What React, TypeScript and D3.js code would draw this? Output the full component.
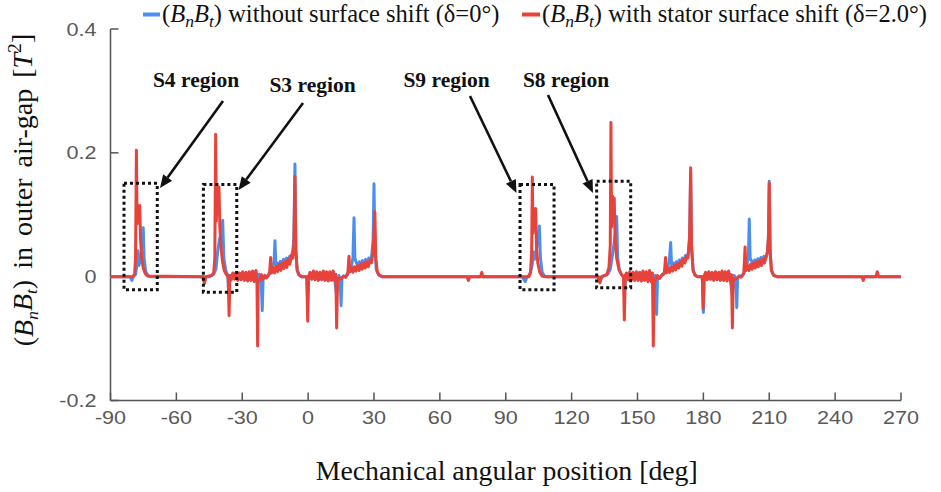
import React from 'react';
import * as d3 from 'd3';

// ---------- data ----------
const xTicks = [-90, -60, -30, 0, 30, 60, 90, 120, 150, 180, 210, 240, 270];
const yTicks = [-0.2, 0, 0.2, 0.4];
const yTickLabels = ['-0.2', '0', '0.2', '0.4'];

// (BnBt) without surface shift (δ=0°)  [deg, T^2]
const seriesWithout: [number, number][] = [
  [-90, 0], [-81, 0], [-80.3, -0.006], [-79.6, 0], [-78.6, 0.004], [-77.9, 0.02], [-77.5, 0.042], [-77.1, 0.018],
  [-76.3, 0.028], [-75.6, 0.05], [-75.1, 0.079], [-74.7, 0.03], [-74, 0.009], [-73, 0.002], [-72, 0],
  [-45, 0], [-43, 0.004], [-42, 0.012], [-41.2, 0.04], [-40.4, 0.06], [-39.6, 0.07], [-38.9, 0.091], [-38.4, 0.03],
  [-37.5, 0.01], [-36.6, 0.002], [-36.1, -0.03], [-35.6, 0.002],
  [-35, -0.004], [-34.25, 0.005], [-33.5, -0.003], [-32.75, 0.006], [-32, -0.005], [-31.25, 0.005], [-30.5, -0.004],
  [-29.75, 0.007], [-29, -0.005], [-28.25, 0.006], [-27.5, -0.006], [-26.75, 0.007], [-26, -0.005], [-25.25, 0.008],
  [-24.5, -0.007], [-23.75, 0.008], [-23, -0.01], [-22.25, 0.004], [-21.4, -0.004], [-20.9, -0.055], [-20.5, -0.003],
  [-19.6, -0.002], [-18.7, 0.001], [-17.8, 0.003], [-17, 0.008], [-16.3, 0.012], [-15.5, 0.025], [-15.1, 0.058], [-14.7, 0.02],
  [-14, 0.022], [-13.3, 0.015], [-12.6, 0.025], [-11.9, 0.018], [-11.2, 0.028], [-10.5, 0.021], [-9.8, 0.03], [-9.1, 0.024],
  [-8.4, 0.033], [-7.7, 0.03], [-7, 0.042], [-6.5, 0.06], [-6.0, 0.182], [-5.6, 0.045], [-5, 0.012], [-4.2, 0.003], [-3, 0],
  [-0.6, 0], [-0.2, -0.04], [0.2, 0],
  [0.9, 0.006], [1.65, -0.004], [2.4, 0.008], [3.15, -0.004], [3.9, 0.007], [4.65, -0.005], [5.4, 0.006], [6.15, -0.004],
  [6.9, 0.008], [7.65, -0.005], [8.4, 0.007], [9.15, -0.006], [9.9, 0.007], [10.65, -0.005], [11.4, 0.008], [12.15, -0.006],
  [13, -0.03], [14, 0.002], [14.6, -0.004], [15.0, -0.047], [15.4, -0.002], [16.3, 0.001], [17.2, -0.001], [18, 0.004],
  [18.8, 0.012], [19.6, 0.015], [20.4, 0.03], [20.9, 0.095], [21.3, 0.03],
  [22, 0.022], [22.7, 0.016], [23.4, 0.024], [24.1, 0.018], [24.8, 0.026], [25.5, 0.02], [26.2, 0.028], [26.9, 0.022],
  [27.6, 0.03], [28.3, 0.026], [29, 0.035], [29.6, 0.06], [30, 0.15], [30.4, 0.05], [31, 0.012], [32, 0.003], [33.5, 0],
  [97.5, 0], [98.8, -0.008], [99.8, 0], [101, 0.003], [102, 0.018], [102.6, 0.04], [103.2, 0.028], [104, 0.045],
  [104.8, 0.065], [105.3, 0.082], [105.8, 0.03], [106.6, 0.007], [107.6, 0.001], [109, 0],
  [132, 0], [132.9, -0.008], [133.8, 0], [136.5, 0.004], [137.6, 0.012], [138.4, 0.03], [139.2, 0.05], [139.9, 0.07],
  [140.5, 0.097], [141, 0.03], [141.8, 0.01], [142.8, 0.003], [143.8, 0], [144.1, -0.03], [144.5, 0.002],
  [145, 0.005], [145.75, -0.004], [146.5, 0.007], [147.25, -0.004], [148, 0.006], [148.75, -0.005], [149.5, 0.007],
  [150.25, -0.005], [151, 0.006], [151.75, -0.006], [152.5, 0.008], [153.25, -0.005], [154, 0.007], [154.75, -0.007],
  [155.5, 0.008], [156.25, -0.007], [157.2, -0.01], [158, 0.002], [158.3, -0.004], [158.7, -0.061], [159.1, -0.003],
  [160, -0.002], [161, 0.002], [162, 0.004], [162.9, 0.01], [163.7, 0.015], [164.5, 0.025], [165.1, 0.055], [165.5, 0.02],
  [166.2, 0.022], [166.9, 0.016], [167.6, 0.024], [168.3, 0.018], [169, 0.027], [169.7, 0.021], [170.4, 0.03], [171.1, 0.025],
  [171.8, 0.034], [172.5, 0.03], [173.2, 0.04], [173.8, 0.07], [174.2, 0.17], [174.6, 0.05], [175.3, 0.012], [176.2, 0.003], [177.5, 0],
  [179.5, 0], [180, -0.058], [180.4, 0],
  [181, 0.006], [181.75, -0.004], [182.5, 0.007], [183.25, -0.004], [184, 0.006], [184.75, -0.005], [185.5, 0.007],
  [186.25, -0.004], [187, 0.006], [187.75, -0.005], [188.5, 0.008], [189.25, -0.005], [190, 0.007], [190.75, -0.006],
  [191.5, 0.008], [192.25, -0.005], [193.2, -0.03], [194, 0.002], [194.8, -0.004], [195.2, -0.05], [195.6, -0.002],
  [196.5, 0.001], [197.4, 0.001], [198.3, 0.004], [199.1, 0.012], [199.8, 0.02], [200.5, 0.03], [200.9, 0.093], [201.3, 0.03],
  [202, 0.025], [202.7, 0.019], [203.4, 0.027], [204.1, 0.021], [204.8, 0.029], [205.5, 0.023], [206.2, 0.031], [206.9, 0.025],
  [207.6, 0.033], [208.3, 0.028], [209, 0.036], [209.6, 0.06], [210, 0.154], [210.4, 0.045], [211, 0.01], [212, 0.002],
  [213.5, 0], [270, 0],
];

// (BnBt) with stator surface shift (δ=2.0°)
const seriesWith: [number, number][] = [
  [-90, 0], [-80, 0], [-79, 0.004], [-78.6, 0.03], [-78.2, 0.204], [-77.9, 0.085], [-77.5, 0.11], [-77.1, 0.095],
  [-76.7, 0.115], [-76.3, 0.06], [-75.8, 0.03], [-75.1, 0.014], [-74.2, 0.005], [-73, 0.001],
  [-48, 0], [-47.2, -0.011], [-46.5, 0], [-44, 0.002], [-43, 0.006], [-42.5, 0.03], [-42.1, 0.23], [-41.8, 0.09],
  [-41.4, 0.14], [-41, 0.12], [-40.6, 0.145], [-40.2, 0.08], [-39.6, 0.045], [-39, 0.025], [-38.2, 0.01], [-37.2, 0.003],
  [-36.4, 0], [-36.0, -0.063], [-35.6, 0.002],
  [-35, -0.005], [-34.25, 0.006], [-33.5, -0.004], [-32.75, 0.007], [-32, -0.006], [-31.25, 0.006], [-30.5, -0.005],
  [-29.75, 0.008], [-29, -0.006], [-28.25, 0.007], [-27.5, -0.007], [-26.75, 0.008], [-26, -0.006], [-25.25, 0.009],
  [-24.5, -0.008], [-23.75, 0.01], [-23.3, -0.01], [-23.0, -0.112], [-22.7, -0.005], [-22, -0.006], [-21.25, 0.003],
  [-20.5, -0.004], [-19.75, 0.002], [-19, -0.002], [-18.25, 0.001], [-17.5, 0.008], [-17.05, 0.031], [-16.7, 0.006],
  [-16, 0.014], [-15.3, 0.006], [-14.6, 0.017], [-13.9, 0.008], [-13.2, 0.02], [-12.5, 0.01], [-11.8, 0.022], [-11.1, 0.013],
  [-10.4, 0.025], [-9.7, 0.015], [-9, 0.028], [-8.3, 0.02], [-7.6, 0.035], [-7, 0.03], [-6.5, 0.05], [-6.0, 0.162],
  [-5.6, 0.04], [-5, 0.01], [-4.2, 0.003], [-3, 0],
  [-0.6, 0], [-0.2, -0.072], [0.2, 0],
  [0.9, 0.007], [1.65, -0.004], [2.4, 0.009], [3.15, -0.005], [3.9, 0.008], [4.65, -0.006], [5.4, 0.007], [6.15, -0.005],
  [6.9, 0.009], [7.65, -0.006], [8.4, 0.008], [9.15, -0.007], [9.9, 0.008], [10.65, -0.006], [11.4, 0.009], [12.15, -0.007],
  [12.6, 0.004], [13.0, -0.083], [13.4, -0.004], [14.1, -0.002], [15, -0.004], [16, 0.001], [17, -0.001], [18.1, 0.006],
  [18.6, 0.033], [19, 0.008],
  [19.7, 0.015], [20.4, 0.007], [21.1, 0.016], [21.8, 0.009], [22.5, 0.018], [23.2, 0.01], [23.9, 0.02], [24.6, 0.012],
  [25.3, 0.022], [26, 0.014], [26.7, 0.024], [27.4, 0.016], [28.1, 0.026], [28.8, 0.022], [29.6, 0.04], [30.4, 0.105],
  [30.8, 0.03], [31.5, 0.008], [32.5, 0.002], [34, 0],
  [72.3, 0], [73, -0.006], [73.6, 0], [78.5, 0], [79.1, 0.007], [79.6, 0],
  [100.5, 0], [101.3, 0.008], [101.8, 0.04], [102.1, 0.161], [102.4, 0.07], [102.8, 0.106], [103.2, 0.09], [103.6, 0.11],
  [104, 0.05], [104.6, 0.022], [105.5, 0.007], [106.5, 0.001], [108, 0],
  [132.2, 0], [132.9, -0.01], [133.6, 0], [136, 0.003], [137, 0.015], [137.6, 0.05], [137.9, 0.249], [138.2, 0.08],
  [138.6, 0.13], [139, 0.105], [139.4, 0.127], [139.8, 0.06], [140.5, 0.03], [141.5, 0.012], [142.6, 0.004], [143.6, 0],
  [144, -0.07], [144.4, 0.002],
  [145, 0.006], [145.75, -0.005], [146.5, 0.008], [147.25, -0.005], [148, 0.007], [148.75, -0.006], [149.5, 0.008],
  [150.25, -0.006], [151, 0.007], [151.75, -0.007], [152.5, 0.009], [153.25, -0.006], [154, 0.008], [154.75, -0.008],
  [155.5, 0.01], [156.25, -0.008], [156.8, 0.006], [157.2, -0.112], [157.6, -0.004], [158.3, -0.005], [159, 0.002],
  [160, -0.003], [161, 0.002], [162.2, 0.006], [162.8, 0.031], [163.2, 0.006],
  [163.9, 0.014], [164.6, 0.007], [165.3, 0.016], [166, 0.009], [166.7, 0.018], [167.4, 0.011], [168.1, 0.021], [168.8, 0.014],
  [169.5, 0.024], [170.2, 0.017], [170.9, 0.028], [171.6, 0.022], [172.3, 0.033], [173, 0.03], [173.7, 0.06], [174.2, 0.176],
  [174.6, 0.05], [175.3, 0.01], [176.2, 0.002], [177.5, 0],
  [179.5, 0], [179.9, -0.052], [180.3, 0],
  [181, 0.007], [181.75, -0.005], [182.5, 0.008], [183.25, -0.004], [184, 0.007], [184.75, -0.006], [185.5, 0.008],
  [186.25, -0.005], [187, 0.007], [187.75, -0.006], [188.5, 0.009], [189.25, -0.006], [190, 0.008], [190.75, -0.007],
  [191.5, 0.009], [192.25, -0.006], [192.8, 0.003], [193.2, -0.083], [193.6, -0.003], [194.3, -0.004], [195.2, -0.003],
  [196.2, 0.001], [197.2, -0.001], [198.4, 0.006], [199, 0.048], [199.4, 0.01],
  [200.1, 0.018], [200.8, 0.01], [201.5, 0.02], [202.2, 0.012], [202.9, 0.022], [203.6, 0.014], [204.3, 0.024], [205, 0.016],
  [205.7, 0.026], [206.4, 0.018], [207.1, 0.028], [207.8, 0.022], [208.5, 0.032], [209.2, 0.04], [209.7, 0.07], [210, 0.151],
  [210.4, 0.04], [211, 0.01], [212, 0.002], [213.5, 0],
  [252.2, 0], [252.8, -0.006], [253.4, 0], [258.6, 0], [259.2, 0.008], [259.8, 0], [270, 0],
];

// dotted region boxes, in data coordinates [x0, x1, yLow, yHigh]
const regionNames = ['S4 region', 'S3 region', 'S9 region', 'S8 region'];
const regionBoxes: [number, number, number, number][] = [
  [-83.85, -68.7, -0.021, 0.151],
  [-47.7, -32.5, -0.025, 0.149],
  [96.5, 112.0, -0.021, 0.149],
  [131.4, 146.9, -0.018, 0.154],
];

// ---------- layout ----------
const W = 941;
const H = 492;
const M = { left: 110.5, right: 901, top: 29, bottom: 400.5 };
// label [cx, baseline], arrow [x1, y1, x2, y2] in pixels
const labelPos = [[196, 87], [312.5, 91.5], [446.5, 86.5], [566, 86.5]];
const arrowPos = [
  [223, 101, 160, 188],
  [303, 103, 238.5, 190],
  [470, 96, 516.5, 193],
  [548, 95, 593, 193],
];

const BLUE = '#4a8ff0';
const RED = '#e8433a';
const AXIS = '#555555';
const TICKTXT = '#595959';

const x = d3.scaleLinear().domain([-90, 270]).range([M.left, M.right]);
const y = d3.scaleLinear().domain([-0.2, 0.4]).range([M.bottom, M.top]);
const line = d3.line<[number, number]>().x(d => x(d[0])).y(d => y(d[1]));

function Arrow({ a }: { a: number[] }) {
  const [x1, y1, x2, y2] = a;
  const ang = Math.atan2(y2 - y1, x2 - x1);
  const L = 13, Wd = 5.5;
  const bx = x2 - L * Math.cos(ang), by = y2 - L * Math.sin(ang);
  const px = -Math.sin(ang) * Wd, py = Math.cos(ang) * Wd;
  return (
    <g>
      <line x1={x1} y1={y1} x2={bx} y2={by} stroke="#111" strokeWidth={2.6} />
      <polygon points={`${x2},${y2} ${bx + px},${by + py} ${bx - px},${by - py}`} fill="#111" />
    </g>
  );
}

const serif = '"Liberation Serif", "Times New Roman", serif';
const sans = '"Liberation Sans", Arial, sans-serif';

function BnBt({ sub = 0.72 }: { sub?: number }) {
  return (
    <>
      <tspan>(</tspan>
      <tspan fontStyle="italic">B</tspan>
      <tspan fontStyle="italic" fontSize={`${sub}em`} dy="0.28em">n</tspan>
      <tspan fontStyle="italic" dy="-0.2em">B</tspan>
      <tspan fontStyle="italic" fontSize={`${sub}em`} dy="0.28em">t</tspan>
      <tspan dy="-0.2em">)</tspan>
    </>
  );
}

export default function App() {
  return (
    <svg width={W} height={H} style={{ position: 'absolute', left: 0, top: 0, background: '#fff' }}>
      <rect width={W} height={H} fill="#fff" />
      {/* axes */}
      <line x1={M.left} y1={M.top} x2={M.left} y2={M.bottom} stroke={AXIS} strokeWidth={1.5} />
      <line x1={M.left} y1={M.bottom} x2={M.right} y2={M.bottom} stroke={AXIS} strokeWidth={1.5} />
      {yTicks.map(t => (
        <line key={'yt' + t} x1={M.left} x2={M.left + 8} y1={y(t)} y2={y(t)} stroke={AXIS} strokeWidth={1.5} />
      ))}
      {xTicks.map(t => (
        <line key={'xt' + t} x1={x(t)} x2={x(t)} y1={M.bottom} y2={M.bottom - 8} stroke={AXIS} strokeWidth={1.5} />
      ))}
      {yTicks.map((t, i) => (
        <text key={'yl' + t} transform={`translate(${M.left - 14},${y(t) + 6.5}) scale(1.2,1)`} textAnchor="end"
          fontFamily={sans} fontSize={18} fill={TICKTXT}>{yTickLabels[i]}</text>
      ))}
      {xTicks.map(t => (
        <text key={'xl' + t} transform={`translate(${x(t)},${M.bottom + 23}) scale(1.2,1)`} textAnchor="middle"
          fontFamily={sans} fontSize={18} fill={TICKTXT}>{t}</text>
      ))}

      {/* series */}
      <path d={line(seriesWithout) || ''} fill="none" stroke={BLUE} strokeWidth={3} strokeLinejoin="round" />
      <path d={line(seriesWith) || ''} fill="none" stroke={RED} strokeWidth={3} strokeLinejoin="round" />

      {/* region boxes */}
      {regionBoxes.map((b, i) => (
        <rect key={'rb' + i} x={x(b[0])} y={y(b[3])} width={x(b[1]) - x(b[0])} height={y(b[2]) - y(b[3])}
          fill="none" stroke="#111" strokeWidth={3} strokeDasharray="3,3" />
      ))}
      {regionNames.map((n, i) => (
        <text key={'rn' + i} x={labelPos[i][0]} y={labelPos[i][1]} textAnchor="middle" fontFamily={serif}
          fontWeight="bold" fontSize={21.5} fill="#111">{n}</text>
      ))}
      {arrowPos.map((a, i) => <Arrow key={'ar' + i} a={a} />)}

      {/* legend */}
      <line x1={143} x2={160} y1={14.5} y2={14.5} stroke={BLUE} strokeWidth={4} />
      <text x={162} y={22} fontFamily={serif} fontSize={24.5} fill="#111">
        <BnBt />
        <tspan> without surface shift (δ=0°)</tspan>
      </text>
      <line x1={522} x2={540} y1={14.5} y2={14.5} stroke={RED} strokeWidth={4} />
      <text x={542} y={22} fontFamily={serif} fontSize={24.5} fill="#111">
        <BnBt />
        <tspan> with stator surface shift (δ=2.0°)</tspan>
      </text>

      {/* axis titles */}
      <text x={(M.left + M.right) / 2 + 1} y={480} textAnchor="middle" fontFamily={serif} fontSize={27.8} fill="#111">
        Mechanical angular position [deg]
      </text>
      <text transform={`translate(33,190) rotate(-90)`} textAnchor="middle" fontFamily={serif} fontSize={28}
        fill="#111" style={{ wordSpacing: '4px' }}>
        <BnBt sub={0.62} />
        <tspan> in outer air-gap [</tspan>
        <tspan fontStyle="italic">T</tspan>
        <tspan fontSize="0.7em" dy="-0.55em">2</tspan>
        <tspan dy="0.38em">]</tspan>
      </text>
    </svg>
  );
}
